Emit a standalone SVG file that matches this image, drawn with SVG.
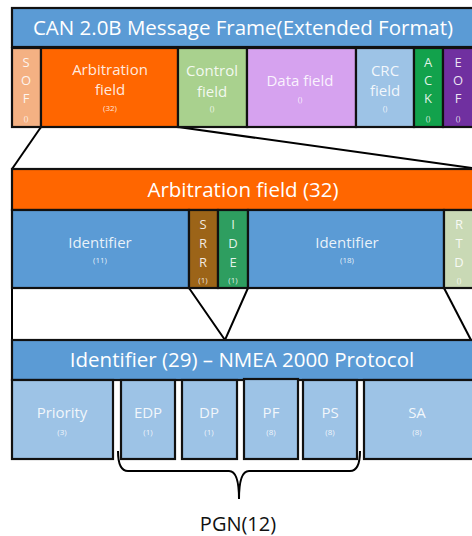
<svg xmlns="http://www.w3.org/2000/svg" width="472" height="536" viewBox="0 0 472 536">
<style>
  .bx { stroke: #111; stroke-width: 2.2; }
  text { font-family: "Open Sans", "Liberation Sans", sans-serif; text-anchor: middle; fill: #ffffff; }
  .hd { font-size: 20.5px; }
  .lb { font-size: 15px; fill-opacity: 0.88; }
  .lt { font-size: 13px; fill-opacity: 0.88; }
  .sm { font-size: 8px; fill-opacity: 0.85; }
  .ln { fill: none; stroke: #000; stroke-width: 2; }
</style>
<rect x="0" y="0" width="472" height="536" fill="#fff"/>

<g id="connectors">
  <line class="ln" x1="41" y1="127" x2="12" y2="169"/>
  <line class="ln" x1="178" y1="127" x2="472" y2="168"/>
  <line class="ln" x1="12" y1="288" x2="12" y2="341"/>
  <polyline class="ln" points="189,288 225,340 248,288"/>
  <line class="ln" x1="444" y1="288" x2="472" y2="342"/>
  <path class="ln" d="M118,451 Q118,471 128,471 L229,471 Q239,471 239,499 Q239,471 249,471 L350,471 Q360,471 360,451"/>
</g>

<g id="can-frame-header">
  <rect class="bx" x="12" y="8" width="466" height="39" fill="#5B9BD5"/>
  <text class="hd" x="243" y="35">CAN 2.0B Message Frame(Extended Format)</text>
</g>
<g id="sof">
  <rect class="bx" x="12" y="48" width="29" height="79" fill="#F4B183"/>
  <text class="lt" x="26" y="67">S</text><text class="lt" x="26" y="85">O</text><text class="lt" x="26" y="103">F</text>
  <text class="sm" x="26" y="121">()</text>
</g>
<g id="arbitration">
  <rect class="bx" x="41" y="48" width="137" height="79" fill="#FF6600"/>
  <text class="lb" x="110" y="75">Arbitration</text><text class="lb" x="110" y="95">field</text>
  <text class="sm" x="110" y="111">(32)</text>
</g>
<g id="control">
  <rect class="bx" x="178" y="48" width="69" height="79" fill="#A9D18E"/>
  <text class="lb" x="212" y="76">Control</text><text class="lb" x="212" y="97">field</text>
  <text class="sm" x="212" y="111">()</text>
</g>
<g id="data">
  <rect class="bx" x="247" y="48" width="109" height="79" fill="#D6A2EF"/>
  <text class="lb" x="300" y="86">Data field</text>
  <text class="sm" x="300" y="102">()</text>
</g>
<g id="crc">
  <rect class="bx" x="356" y="48" width="58" height="79" fill="#9DC3E6"/>
  <text class="lb" x="385" y="76">CRC</text><text class="lb" x="385" y="96">field</text>
  <text class="sm" x="385" y="111">()</text>
</g>
<g id="ack">
  <rect class="bx" x="414" y="48" width="29" height="79" fill="#12A24C"/>
  <text class="lt" x="428" y="67">A</text><text class="lt" x="428" y="85">C</text><text class="lt" x="428" y="103">K</text>
  <text class="sm" x="428" y="121">()</text>
</g>
<g id="eof">
  <rect class="bx" x="443" y="48" width="35" height="79" fill="#7030A0"/>
  <text class="lt" x="458" y="67">E</text><text class="lt" x="458" y="85">O</text><text class="lt" x="458" y="103">F</text>
  <text class="sm" x="458" y="121">()</text>
</g>

<g id="arbitration-header">
  <rect class="bx" x="12" y="169" width="466" height="41" fill="#FF6600"/>
  <text class="hd" x="243" y="197">Arbitration field (32)</text>
</g>
<g id="identifier-11">
  <rect class="bx" x="12" y="210" width="177" height="78" fill="#5B9BD5"/>
  <text class="lb" x="100" y="248">Identifier</text>
  <text class="sm" x="100" y="263">(11)</text>
</g>
<g id="srr">
  <rect class="bx" x="189" y="210" width="29" height="78" fill="#9C6418"/>
  <text class="lt" x="203" y="229">S</text><text class="lt" x="203" y="248">R</text><text class="lt" x="203" y="267">R</text>
  <text class="sm" x="203" y="283">(1)</text>
</g>
<g id="ide">
  <rect class="bx" x="218" y="210" width="30" height="78" fill="#2E9E60"/>
  <text class="lt" x="233" y="229">I</text><text class="lt" x="233" y="248">D</text><text class="lt" x="233" y="267">E</text>
  <text class="sm" x="233" y="283">(1)</text>
</g>
<g id="identifier-18">
  <rect class="bx" x="248" y="210" width="196" height="78" fill="#5B9BD5"/>
  <text class="lb" x="347" y="248">Identifier</text>
  <text class="sm" x="347" y="263">(18)</text>
</g>
<g id="rtd">
  <rect class="bx" x="444" y="210" width="34" height="78" fill="#C9D9B5"/>
  <text class="lt" x="459" y="229">R</text><text class="lt" x="459" y="248">T</text><text class="lt" x="459" y="267">D</text>
  <text class="sm" x="459" y="283">()</text>
</g>

<g id="nmea-header">
  <rect class="bx" x="12" y="340" width="466" height="40" fill="#5B9BD5"/>
  <text class="hd" x="242" y="367">Identifier (29) – NMEA 2000 Protocol</text>
</g>
<g id="priority">
  <rect class="bx" x="12" y="380" width="101" height="79" fill="#9DC3E6"/>
  <text class="lb" x="62" y="418">Priority</text><text class="sm" x="62" y="435">(3)</text>
</g>
<g id="edp">
  <rect class="bx" x="121" y="380" width="54" height="79" fill="#9DC3E6"/>
  <text class="lb" x="148" y="418">EDP</text><text class="sm" x="148" y="435">(1)</text>
</g>
<g id="dp">
  <rect class="bx" x="182" y="380" width="55" height="79" fill="#9DC3E6"/>
  <text class="lb" x="209" y="418">DP</text><text class="sm" x="209" y="435">(1)</text>
</g>
<g id="pf">
  <rect class="bx" x="244" y="379" width="54" height="80" fill="#9DC3E6"/>
  <text class="lb" x="271" y="418">PF</text><text class="sm" x="271" y="435">(8)</text>
</g>
<g id="ps">
  <rect class="bx" x="303" y="380" width="54" height="79" fill="#9DC3E6"/>
  <text class="lb" x="330" y="418">PS</text><text class="sm" x="330" y="435">(8)</text>
</g>
<g id="sa">
  <rect class="bx" x="364" y="380" width="114" height="79" fill="#9DC3E6"/>
  <text class="lb" x="417" y="418">SA</text><text class="sm" x="417" y="435">(8)</text>
</g>
<g id="pgn-label">
  <text x="238" y="531" style="font-size:20px;fill:#111;">PGN(12)</text>
</g>
</svg>
